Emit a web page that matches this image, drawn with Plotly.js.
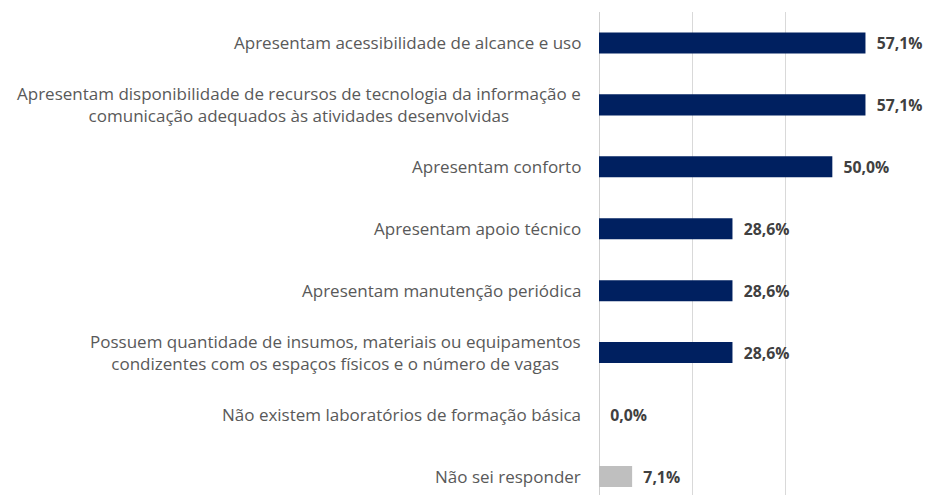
<!DOCTYPE html>
<html>
<head>
<meta charset="utf-8">
<script src="https://cdn.plot.ly/plotly-3.0.1.min.js"></script>
<style>html,body{margin:0;padding:0;background:#fff;}#chart{width:933px;height:495px;}</style>
</head>
<body>
<div id="chart"></div>
<script>
const categories = [
  "Apresentam acessibilidade de alcance e uso",
  "Apresentam disponibilidade de recursos de tecnologia da informação e<br>comunicação adequados às atividades desenvolvidas",
  "Apresentam conforto",
  "Apresentam apoio técnico",
  "Apresentam manutenção periódica",
  "Possuem quantidade de insumos, materiais ou equipamentos<br>condizentes com os espaços físicos e o número de vagas",
  "Não existem laboratórios de formação básica",
  "Não sei responder"
];
const values = [57.1, 57.1, 50.0, 28.6, 28.6, 28.6, 0.0, 7.1];
const barColors = ["#002060", "#002060", "#002060", "#002060", "#002060", "#002060", "#002060", "#BFBFBF"];
const xTicks = [0, 20, 40, 60];

const trace = {
  type: "bar",
  orientation: "h",
  x: values,
  y: categories,
  marker: {color: barColors},
  width: 0.34,
  texttemplate: "\u00a0\u00a0%{x:.1f}%",
  textposition: "outside",
  cliponaxis: false,
  textfont: {family: "'Open Sans', sans-serif", size: 18, color: "#404040", weight: 700},
  hoverinfo: "none"
};

const annotations = categories.map((c) => ({
  xref: "paper", yref: "y",
  x: 0, y: c,
  xanchor: "right", yanchor: "middle",
  align: "center",
  text: c,
  showarrow: false,
  xshift: -16,
  font: {family: "'Open Sans', sans-serif", size: 17, color: "#595959"}
}));

const layout = {
  width: 933, height: 495,
  margin: {l: 599, r: 54, t: 12, b: 0},
  paper_bgcolor: "#ffffff",
  plot_bgcolor: "#ffffff",
  separators: ",.",
  showlegend: false,
  xaxis: {
    range: [0, 60],
    tickvals: xTicks,
    showticklabels: false,
    showgrid: true,
    gridcolor: "#d9d9d9",
    gridwidth: 1,
    zeroline: true,
    zerolinecolor: "#cfcfcf",
    zerolinewidth: 1,
    showline: false,
    fixedrange: true
  },
  yaxis: {
    type: "category",
    categoryorder: "array",
    categoryarray: categories,
    range: [7.30, -0.5],
    showticklabels: false,
    showgrid: false,
    zeroline: false,
    showline: false,
    fixedrange: true
  },
  annotations: annotations
};

Plotly.newPlot("chart", [trace], layout, {displayModeBar: false, staticPlot: true});
</script>
</body>
</html>
